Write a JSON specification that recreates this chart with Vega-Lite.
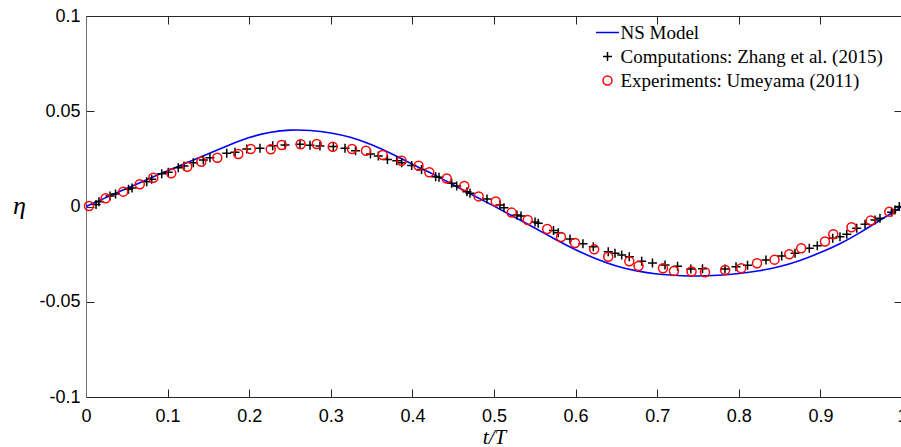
{
  "$schema": "https://vega.github.io/schema/vega-lite/v6.json",
  "width": 816,
  "height": 381,
  "autosize": {"type": "none"},
  "padding": {"left": 86, "top": 16, "right": 0, "bottom": 50},
  "background": "white",
  "config": {
    "view": {"stroke": null},
    "font": "Liberation Sans",
    "axis": {
      "grid": false,
      "tickSize": -8,
      "tickColor": "#262626",
      "domainColor": "#262626",
      "tickWidth": 1,
      "domainWidth": 1,
      "labelFont": "Liberation Sans",
      "labelFontSize": 18,
      "labelColor": "#000000"
    },
    "legend": {
      "labelFont": "Liberation Serif",
      "labelFontSize": 19,
      "labelColor": "#000000",
      "labelLimit": 400,
      "symbolSize": 81,
      "symbolStrokeWidth": 1.5,
      "rowPadding": 4,
      "labelOffset": 3.5,
      "padding": 0
    }
  },
  "datasets": {
    "model": [
      {"t": 0, "eta": 0, "series": "NS Model"},
      {"t": 0.025, "eta": 0.0048, "series": "NS Model"},
      {"t": 0.05, "eta": 0.0095, "series": "NS Model"},
      {"t": 0.075, "eta": 0.0142, "series": "NS Model"},
      {"t": 0.1, "eta": 0.0188, "series": "NS Model"},
      {"t": 0.125, "eta": 0.0232, "series": "NS Model"},
      {"t": 0.15, "eta": 0.0277, "series": "NS Model"},
      {"t": 0.175, "eta": 0.0322, "series": "NS Model"},
      {"t": 0.2, "eta": 0.0362, "series": "NS Model"},
      {"t": 0.225, "eta": 0.0388, "series": "NS Model"},
      {"t": 0.25, "eta": 0.0401, "series": "NS Model"},
      {"t": 0.275, "eta": 0.0399, "series": "NS Model"},
      {"t": 0.3, "eta": 0.0386, "series": "NS Model"},
      {"t": 0.325, "eta": 0.0362, "series": "NS Model"},
      {"t": 0.35, "eta": 0.0324, "series": "NS Model"},
      {"t": 0.375, "eta": 0.0276, "series": "NS Model"},
      {"t": 0.4, "eta": 0.0222, "series": "NS Model"},
      {"t": 0.425, "eta": 0.017, "series": "NS Model"},
      {"t": 0.45, "eta": 0.0114, "series": "NS Model"},
      {"t": 0.475, "eta": 0.0058, "series": "NS Model"},
      {"t": 0.5, "eta": 0.0002, "series": "NS Model"},
      {"t": 0.525, "eta": -0.0055, "series": "NS Model"},
      {"t": 0.55, "eta": -0.0113, "series": "NS Model"},
      {"t": 0.575, "eta": -0.0172, "series": "NS Model"},
      {"t": 0.6, "eta": -0.0227, "series": "NS Model"},
      {"t": 0.625, "eta": -0.0274, "series": "NS Model"},
      {"t": 0.65, "eta": -0.0312, "series": "NS Model"},
      {"t": 0.675, "eta": -0.0338, "series": "NS Model"},
      {"t": 0.7, "eta": -0.0354, "series": "NS Model"},
      {"t": 0.725, "eta": -0.0362, "series": "NS Model"},
      {"t": 0.75, "eta": -0.0365, "series": "NS Model"},
      {"t": 0.775, "eta": -0.0361, "series": "NS Model"},
      {"t": 0.8, "eta": -0.0352, "series": "NS Model"},
      {"t": 0.825, "eta": -0.0337, "series": "NS Model"},
      {"t": 0.85, "eta": -0.0315, "series": "NS Model"},
      {"t": 0.875, "eta": -0.0283, "series": "NS Model"},
      {"t": 0.9, "eta": -0.0242, "series": "NS Model"},
      {"t": 0.925, "eta": -0.0193, "series": "NS Model"},
      {"t": 0.95, "eta": -0.0133, "series": "NS Model"},
      {"t": 0.975, "eta": -0.0067, "series": "NS Model"},
      {"t": 1.0, "eta": 0, "series": "NS Model"}
    ],
    "obs": [
      {"t": 0.0123, "eta": 0.0011, "series": "Computations: Zhang et al. (2015)"},
      {"t": 0.0159, "eta": 0.0025, "series": "Computations: Zhang et al. (2015)"},
      {"t": 0.0294, "eta": 0.0055, "series": "Computations: Zhang et al. (2015)"},
      {"t": 0.0362, "eta": 0.0066, "series": "Computations: Zhang et al. (2015)"},
      {"t": 0.0521, "eta": 0.009, "series": "Computations: Zhang et al. (2015)"},
      {"t": 0.0564, "eta": 0.0097, "series": "Computations: Zhang et al. (2015)"},
      {"t": 0.0744, "eta": 0.013, "series": "Computations: Zhang et al. (2015)"},
      {"t": 0.0805, "eta": 0.0143, "series": "Computations: Zhang et al. (2015)"},
      {"t": 0.0928, "eta": 0.0172, "series": "Computations: Zhang et al. (2015)"},
      {"t": 0.1008, "eta": 0.018, "series": "Computations: Zhang et al. (2015)"},
      {"t": 0.1131, "eta": 0.0204, "series": "Computations: Zhang et al. (2015)"},
      {"t": 0.1201, "eta": 0.0213, "series": "Computations: Zhang et al. (2015)"},
      {"t": 0.1315, "eta": 0.023, "series": "Computations: Zhang et al. (2015)"},
      {"t": 0.1438, "eta": 0.0244, "series": "Computations: Zhang et al. (2015)"},
      {"t": 0.1519, "eta": 0.0256, "series": "Computations: Zhang et al. (2015)"},
      {"t": 0.1725, "eta": 0.0279, "series": "Computations: Zhang et al. (2015)"},
      {"t": 0.1826, "eta": 0.0285, "series": "Computations: Zhang et al. (2015)"},
      {"t": 0.197, "eta": 0.0302, "series": "Computations: Zhang et al. (2015)"},
      {"t": 0.2132, "eta": 0.0306, "series": "Computations: Zhang et al. (2015)"},
      {"t": 0.2288, "eta": 0.0319, "series": "Computations: Zhang et al. (2015)"},
      {"t": 0.2439, "eta": 0.0323, "series": "Computations: Zhang et al. (2015)"},
      {"t": 0.2622, "eta": 0.0327, "series": "Computations: Zhang et al. (2015)"},
      {"t": 0.2745, "eta": 0.0321, "series": "Computations: Zhang et al. (2015)"},
      {"t": 0.2867, "eta": 0.0318, "series": "Computations: Zhang et al. (2015)"},
      {"t": 0.3031, "eta": 0.0315, "series": "Computations: Zhang et al. (2015)"},
      {"t": 0.3174, "eta": 0.0306, "series": "Computations: Zhang et al. (2015)"},
      {"t": 0.3303, "eta": 0.0293, "series": "Computations: Zhang et al. (2015)"},
      {"t": 0.3486, "eta": 0.0276, "series": "Computations: Zhang et al. (2015)"},
      {"t": 0.3582, "eta": 0.0265, "series": "Computations: Zhang et al. (2015)"},
      {"t": 0.3694, "eta": 0.0247, "series": "Computations: Zhang et al. (2015)"},
      {"t": 0.3808, "eta": 0.024, "series": "Computations: Zhang et al. (2015)"},
      {"t": 0.3869, "eta": 0.023, "series": "Computations: Zhang et al. (2015)"},
      {"t": 0.3991, "eta": 0.0215, "series": "Computations: Zhang et al. (2015)"},
      {"t": 0.4112, "eta": 0.0194, "series": "Computations: Zhang et al. (2015)"},
      {"t": 0.4285, "eta": 0.0156, "series": "Computations: Zhang et al. (2015)"},
      {"t": 0.4326, "eta": 0.0153, "series": "Computations: Zhang et al. (2015)"},
      {"t": 0.4481, "eta": 0.0122, "series": "Computations: Zhang et al. (2015)"},
      {"t": 0.4543, "eta": 0.0108, "series": "Computations: Zhang et al. (2015)"},
      {"t": 0.4669, "eta": 0.0078, "series": "Computations: Zhang et al. (2015)"},
      {"t": 0.4706, "eta": 0.0069, "series": "Computations: Zhang et al. (2015)"},
      {"t": 0.4914, "eta": 0.004, "series": "Computations: Zhang et al. (2015)"},
      {"t": 0.5073, "eta": 0.0008, "series": "Computations: Zhang et al. (2015)"},
      {"t": 0.5122, "eta": -0.0007, "series": "Computations: Zhang et al. (2015)"},
      {"t": 0.5281, "eta": -0.0045, "series": "Computations: Zhang et al. (2015)"},
      {"t": 0.5331, "eta": -0.005, "series": "Computations: Zhang et al. (2015)"},
      {"t": 0.5503, "eta": -0.0081, "series": "Computations: Zhang et al. (2015)"},
      {"t": 0.5542, "eta": -0.0088, "series": "Computations: Zhang et al. (2015)"},
      {"t": 0.5729, "eta": -0.0126, "series": "Computations: Zhang et al. (2015)"},
      {"t": 0.5788, "eta": -0.0138, "series": "Computations: Zhang et al. (2015)"},
      {"t": 0.5931, "eta": -0.0171, "series": "Computations: Zhang et al. (2015)"},
      {"t": 0.609, "eta": -0.0195, "series": "Computations: Zhang et al. (2015)"},
      {"t": 0.6217, "eta": -0.0211, "series": "Computations: Zhang et al. (2015)"},
      {"t": 0.64, "eta": -0.0237, "series": "Computations: Zhang et al. (2015)"},
      {"t": 0.6483, "eta": -0.0246, "series": "Computations: Zhang et al. (2015)"},
      {"t": 0.6565, "eta": -0.0254, "series": "Computations: Zhang et al. (2015)"},
      {"t": 0.6658, "eta": -0.0264, "series": "Computations: Zhang et al. (2015)"},
      {"t": 0.681, "eta": -0.0287, "series": "Computations: Zhang et al. (2015)"},
      {"t": 0.6942, "eta": -0.0297, "series": "Computations: Zhang et al. (2015)"},
      {"t": 0.7096, "eta": -0.0307, "series": "Computations: Zhang et al. (2015)"},
      {"t": 0.7249, "eta": -0.0314, "series": "Computations: Zhang et al. (2015)"},
      {"t": 0.7412, "eta": -0.0328, "series": "Computations: Zhang et al. (2015)"},
      {"t": 0.7555, "eta": -0.0327, "series": "Computations: Zhang et al. (2015)"},
      {"t": 0.7831, "eta": -0.0328, "series": "Computations: Zhang et al. (2015)"},
      {"t": 0.7966, "eta": -0.0316, "series": "Computations: Zhang et al. (2015)"},
      {"t": 0.8107, "eta": -0.0309, "series": "Computations: Zhang et al. (2015)"},
      {"t": 0.8333, "eta": -0.0281, "series": "Computations: Zhang et al. (2015)"},
      {"t": 0.8526, "eta": -0.026, "series": "Computations: Zhang et al. (2015)"},
      {"t": 0.8689, "eta": -0.0246, "series": "Computations: Zhang et al. (2015)"},
      {"t": 0.8864, "eta": -0.0219, "series": "Computations: Zhang et al. (2015)"},
      {"t": 0.8962, "eta": -0.0206, "series": "Computations: Zhang et al. (2015)"},
      {"t": 0.9151, "eta": -0.0167, "series": "Computations: Zhang et al. (2015)"},
      {"t": 0.924, "eta": -0.0159, "series": "Computations: Zhang et al. (2015)"},
      {"t": 0.9323, "eta": -0.0146, "series": "Computations: Zhang et al. (2015)"},
      {"t": 0.9445, "eta": -0.0114, "series": "Computations: Zhang et al. (2015)"},
      {"t": 0.9547, "eta": -0.0093, "series": "Computations: Zhang et al. (2015)"},
      {"t": 0.9669, "eta": -0.0071, "series": "Computations: Zhang et al. (2015)"},
      {"t": 0.973, "eta": -0.0062, "series": "Computations: Zhang et al. (2015)"},
      {"t": 0.9873, "eta": -0.003, "series": "Computations: Zhang et al. (2015)"},
      {"t": 0.9914, "eta": -0.0018, "series": "Computations: Zhang et al. (2015)"},
      {"t": 0.9967, "eta": 0.0, "series": "Computations: Zhang et al. (2015)"},
      {"t": 0.0037, "eta": 0.0003, "series": "Experiments: Umeyama (2011)"},
      {"t": 0.0241, "eta": 0.0043, "series": "Experiments: Umeyama (2011)"},
      {"t": 0.0457, "eta": 0.0078, "series": "Experiments: Umeyama (2011)"},
      {"t": 0.0659, "eta": 0.0117, "series": "Experiments: Umeyama (2011)"},
      {"t": 0.0825, "eta": 0.0151, "series": "Experiments: Umeyama (2011)"},
      {"t": 0.1045, "eta": 0.0174, "series": "Experiments: Umeyama (2011)"},
      {"t": 0.1241, "eta": 0.0209, "series": "Experiments: Umeyama (2011)"},
      {"t": 0.1413, "eta": 0.0235, "series": "Experiments: Umeyama (2011)"},
      {"t": 0.1609, "eta": 0.0256, "series": "Experiments: Umeyama (2011)"},
      {"t": 0.1866, "eta": 0.0276, "series": "Experiments: Umeyama (2011)"},
      {"t": 0.2019, "eta": 0.0302, "series": "Experiments: Umeyama (2011)"},
      {"t": 0.2264, "eta": 0.03, "series": "Experiments: Umeyama (2011)"},
      {"t": 0.2398, "eta": 0.0323, "series": "Experiments: Umeyama (2011)"},
      {"t": 0.2631, "eta": 0.0327, "series": "Experiments: Umeyama (2011)"},
      {"t": 0.2828, "eta": 0.0328, "series": "Experiments: Umeyama (2011)"},
      {"t": 0.3024, "eta": 0.0314, "series": "Experiments: Umeyama (2011)"},
      {"t": 0.326, "eta": 0.0302, "series": "Experiments: Umeyama (2011)"},
      {"t": 0.3431, "eta": 0.0293, "series": "Experiments: Umeyama (2011)"},
      {"t": 0.3636, "eta": 0.027, "series": "Experiments: Umeyama (2011)"},
      {"t": 0.3867, "eta": 0.024, "series": "Experiments: Umeyama (2011)"},
      {"t": 0.4075, "eta": 0.0214, "series": "Experiments: Umeyama (2011)"},
      {"t": 0.4207, "eta": 0.018, "series": "Experiments: Umeyama (2011)"},
      {"t": 0.4421, "eta": 0.0147, "series": "Experiments: Umeyama (2011)"},
      {"t": 0.4636, "eta": 0.0108, "series": "Experiments: Umeyama (2011)"},
      {"t": 0.4812, "eta": 0.0053, "series": "Experiments: Umeyama (2011)"},
      {"t": 0.5022, "eta": 0.0026, "series": "Experiments: Umeyama (2011)"},
      {"t": 0.5217, "eta": -0.0032, "series": "Experiments: Umeyama (2011)"},
      {"t": 0.5413, "eta": -0.0071, "series": "Experiments: Umeyama (2011)"},
      {"t": 0.5652, "eta": -0.0118, "series": "Experiments: Umeyama (2011)"},
      {"t": 0.5821, "eta": -0.016, "series": "Experiments: Umeyama (2011)"},
      {"t": 0.5993, "eta": -0.0192, "series": "Experiments: Umeyama (2011)"},
      {"t": 0.6228, "eta": -0.0225, "series": "Experiments: Umeyama (2011)"},
      {"t": 0.64, "eta": -0.0264, "series": "Experiments: Umeyama (2011)"},
      {"t": 0.6658, "eta": -0.0288, "series": "Experiments: Umeyama (2011)"},
      {"t": 0.6771, "eta": -0.0312, "series": "Experiments: Umeyama (2011)"},
      {"t": 0.7071, "eta": -0.0324, "series": "Experiments: Umeyama (2011)"},
      {"t": 0.7205, "eta": -0.0339, "series": "Experiments: Umeyama (2011)"},
      {"t": 0.7421, "eta": -0.0341, "series": "Experiments: Umeyama (2011)"},
      {"t": 0.7586, "eta": -0.0345, "series": "Experiments: Umeyama (2011)"},
      {"t": 0.7833, "eta": -0.0333, "series": "Experiments: Umeyama (2011)"},
      {"t": 0.803, "eta": -0.0324, "series": "Experiments: Umeyama (2011)"},
      {"t": 0.8223, "eta": -0.0298, "series": "Experiments: Umeyama (2011)"},
      {"t": 0.8438, "eta": -0.0279, "series": "Experiments: Umeyama (2011)"},
      {"t": 0.8619, "eta": -0.0251, "series": "Experiments: Umeyama (2011)"},
      {"t": 0.8765, "eta": -0.0219, "series": "Experiments: Umeyama (2011)"},
      {"t": 0.9056, "eta": -0.0184, "series": "Experiments: Umeyama (2011)"},
      {"t": 0.9158, "eta": -0.0146, "series": "Experiments: Umeyama (2011)"},
      {"t": 0.9381, "eta": -0.0109, "series": "Experiments: Umeyama (2011)"},
      {"t": 0.9616, "eta": -0.0074, "series": "Experiments: Umeyama (2011)"},
      {"t": 0.9844, "eta": -0.0027, "series": "Experiments: Umeyama (2011)"}
    ]
  },
  "layer": [
    {
      "data": {"name": "model"},
      "mark": {"type": "line", "strokeWidth": 1.6, "interpolate": "natural"},
      "encoding": {
        "x": {
          "field": "t", "type": "quantitative",
          "scale": {"domain": [0, 1], "nice": false, "zero": false},
          "axis": {
            "orient": "bottom",
            "values": [0, 0.1, 0.2, 0.3, 0.4, 0.5, 0.6, 0.7, 0.8, 0.9, 1],
            "format": "~g",
            "labelPadding": 18,
            "labelFlush": false,
            "title": "t/T",
            "titleFont": "Liberation Serif",
            "titleFontStyle": "italic",
            "titleFontWeight": "normal",
            "titleFontSize": 21,
            "titleBaseline": "alphabetic",
            "titleY": 46
          }
        },
        "y": {
          "field": "eta", "type": "quantitative",
          "scale": {"domain": [-0.1, 0.1], "nice": false, "zero": false},
          "axis": {
            "orient": "left",
            "values": [-0.1, -0.05, 0, 0.05, 0.1],
            "format": "~g",
            "labelExpr": "replace(datum.label, '\u2212', '-')",
            "labelPadding": 14,
            "labelFlush": false,
            "domainColor": "#6e6e6e",
            "title": "η",
            "titleAngle": 0,
            "titleFont": "Liberation Serif",
            "titleFontStyle": "italic",
            "titleFontWeight": "normal",
            "titleFontSize": 26,
            "titleAlign": "center",
            "titleBaseline": "alphabetic",
            "titleX": -67,
            "titleY": 197
          }
        },
        "color": {
          "field": "series", "type": "nominal",
          "scale": {
            "domain": ["NS Model", "Computations: Zhang et al. (2015)", "Experiments: Umeyama (2011)"],
            "range": ["#0000ff", "#000000", "#ff0000"]
          },
          "legend": {"orient": "none", "legendX": 512, "legendY": 7, "title": null}
        }
      }
    },
    {
      "data": {"name": "obs"},
      "mark": {"type": "point", "filled": false, "size": 81, "strokeWidth": 1.5, "opacity": 1},
      "encoding": {
        "x": {
          "field": "t", "type": "quantitative",
          "axis": {"orient": "top", "values": [0, 0.1, 0.2, 0.3, 0.4, 0.5, 0.6, 0.7, 0.8, 0.9, 1], "labels": false, "title": null}
        },
        "y": {
          "field": "eta", "type": "quantitative",
          "axis": {"orient": "right", "values": [-0.1, -0.05, 0, 0.05, 0.1], "labels": false, "title": null}
        },
        "color": {
          "field": "series", "type": "nominal",
          "legend": {"orient": "none", "legendX": 512, "legendY": 7, "title": null}
        },
        "shape": {
          "field": "series", "type": "nominal",
          "scale": {
            "domain": ["NS Model", "Computations: Zhang et al. (2015)", "Experiments: Umeyama (2011)"],
            "range": ["M-2.55,0H2.55", "M-1,0H1M0,-1V1", "circle"]
          },
          "legend": {"orient": "none", "legendX": 512, "legendY": 7, "title": null}
        }
      }
    }
  ],
  "resolve": {"axis": {"x": "independent", "y": "independent"}}
}
